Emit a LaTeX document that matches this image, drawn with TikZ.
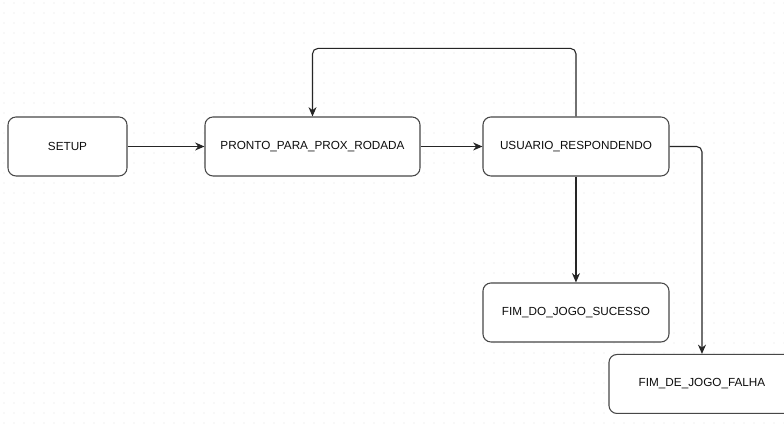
\documentclass[tikz,border=0pt]{standalone}
\usepackage{fontspec}
\setmainfont{Liberation Sans}
\usetikzlibrary{arrows.meta}

\begin{document}
\begin{tikzpicture}[x=0.75pt, y=0.75pt, line width=0.8pt,
  state/.style = {draw=black!72, rounded corners=6pt, fill=white, minimum width=139.5pt, minimum height=44.25pt, inner sep=0pt, text=black!95, font=\fontsize{8.8}{10}\selectfont},
  flow/.style = {draw=black!85, rounded corners=4pt, -{Stealth[length=7pt, width=6pt]}}]
\clip (0,0) rectangle (784,427);
\fill[white] (0,0) rectangle (784,427);
\foreach \i in {0,...,78} \foreach \j in {0,...,42} \fill[black!10] (\i*10+4, \j*10+4) circle (0.45pt);
\node[state, minimum width=89.25pt] (setup) at (67.5,280.5) {SETUP};
\node[state, minimum width=161.25pt] (pronto) [node distance=183.75pt, right of=setup] {PRONTO\_PARA\_PROX\_RODADA};
\node[state] (usuario) [node distance=197.6pt, right of=pronto] {USUARIO\_RESPONDENDO};
\node[state] (fimdo) [node distance=124.5pt, below of=usuario] {FIM\_DO\_JOGO\_SUCESSO};
\node[state] (falha) [node distance=53.6pt, below of=fimdo, xshift=94.5pt] {FIM\_DE\_JOGO\_FALHA};
\draw[flow] (setup) -- (pronto);
\draw[flow] (pronto) -- (usuario);
\draw[flow] (usuario.north) -- ++(0,68) -| (pronto.north);
\draw[flow] (usuario) -- (fimdo);
\draw[flow] (usuario.east) -| (falha.north);
\end{tikzpicture}
\end{document}
